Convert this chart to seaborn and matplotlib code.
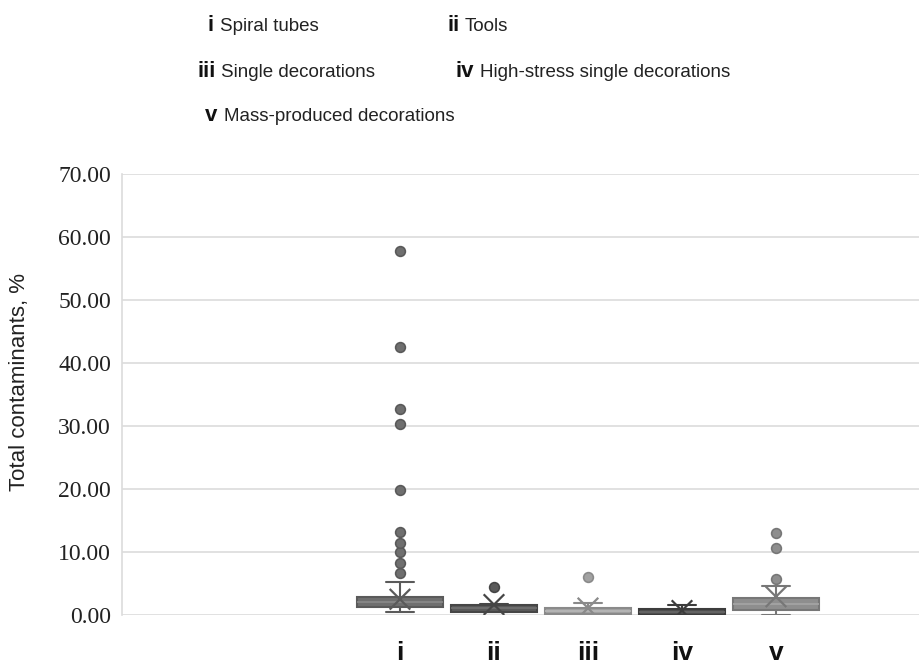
import numpy as np
import pandas as pd
import seaborn as sns
import matplotlib
matplotlib.use("Agg")
import matplotlib.pyplot as plt

cats = ["i", "ii", "iii", "iv", "v"]
legend_names = ["Spiral tubes", "Tools", "Single decorations",
                "High-stress single decorations", "Mass-produced decorations"]

vals_i = [0.5, 0.7, 0.8, 0.9, 1.0, 1.05, 1.1, 1.1, 1.15, 1.2, 1.2, 1.25, 1.25,
          1.3, 1.3, 1.3, 1.35, 1.4, 1.5, 1.6, 1.7, 1.8, 1.8, 1.9, 1.9, 2.0,
          2.0, 2.05, 2.1, 2.1, 2.1, 2.2, 2.3, 2.4, 2.5, 2.5, 2.6, 2.6, 2.7,
          2.7, 2.8, 2.8, 2.85, 2.9, 2.9, 2.9, 3.3, 4.0, 5.2,
          6.7, 8.3, 10.0, 11.4, 13.2, 19.8, 30.3, 32.7, 42.6, 57.8]
vals_ii = [0.4, 0.45, 0.45, 0.5, 0.5, 0.5, 0.7, 0.8, 0.9, 1.0, 1.1, 1.2, 1.3,
           1.4, 1.5, 1.6, 1.6, 1.6, 1.7, 1.8, 4.5]
vals_iii = [0.0, 0.05, 0.1, 0.1, 0.15, 0.15, 0.2, 0.3, 0.4, 0.5, 0.6, 0.7, 0.8,
            0.9, 1.0, 1.1, 1.1, 1.2, 1.5, 1.9, 6.1]
vals_iv = [0.0, 0.0, 0.02, 0.03, 0.05, 0.05, 0.1, 0.2, 0.3, 0.4, 0.5, 0.6, 0.7,
           0.8, 0.9, 0.95, 0.95, 1.0, 1.2, 1.4, 1.6]
vals_v = [0.0, 0.2, 0.4, 0.5, 0.6, 0.75, 0.75, 0.9, 1.1, 1.3, 1.5, 1.7, 1.7,
          1.9, 2.1, 2.3, 2.5, 2.65, 2.65, 3.2, 4.0, 4.6, 5.7, 10.7, 13.0]
means = [2.5, 1.65, 1.1, 0.7, 2.9]

groups = [vals_i, vals_ii, vals_iii, vals_iv, vals_v]
df = pd.concat([pd.DataFrame({"group": c, "value": v}) for c, v in zip(cats, groups)],
               ignore_index=True)

face_colors = ["#6f6f6f", "#5a5a5a", "#a2a2a2", "#4f4f4f", "#8e8e8e"]
line_colors = ["#5a5a5a", "#464646", "#8a8a8a", "#3c3c3c", "#777777"]
med_colors = ["#8a8a8a", "#727272", "#b8b8b8", "#686868", "#a6a6a6"]

sns.set_style("white")
fig = plt.figure(figsize=(9.2, 6.66), dpi=100)
ax = fig.add_axes([122 / 920, 1 - 615 / 666, 1 - 122 / 920, (615 - 174) / 666])

for c, fc, lc, mc in zip(cats, face_colors, line_colors, med_colors):
    sub = df[df["group"] == c]
    sns.boxplot(data=sub, x="group", y="value", order=cats, ax=ax,
                color=fc, linecolor=lc, width=0.92, linewidth=1.5, saturation=1,
                capwidths=0.3,
                medianprops=dict(color=mc, linewidth=1.2),
                flierprops=dict(marker="o", markersize=7, markerfacecolor=fc,
                                markeredgecolor=lc, markeredgewidth=1.2))

sns.scatterplot(x=cats, y=means, hue=cats, palette=line_colors, marker="x",
                s=220, linewidth=1.6, legend=False, ax=ax, zorder=5)

ax.set_xlim(-2.957, 5.532)
ax.set_ylim(0, 70)
ax.set_yticks(np.arange(0, 71, 10))
ax.set_yticklabels([f"{t:.2f}" for t in np.arange(0, 71, 10)],
                   family="Liberation Serif", fontsize=17, color="#222222")
ax.set_xticks(range(len(cats)))
ax.set_xticklabels(cats, fontweight="bold", family="Liberation Sans",
                   fontsize=19, color="#111111")
ax.tick_params(axis="x", length=0, pad=19)
ax.tick_params(axis="y", length=0, pad=8)
ax.set_xlabel("")
ax.set_ylabel("")
ax.yaxis.grid(True, color="#dcdcdc", linewidth=1.2)
ax.set_axisbelow(True)
for s in ["top", "right", "bottom"]:
    ax.spines[s].set_visible(False)
ax.spines["left"].set_color("#dcdcdc")
ax.spines["left"].set_linewidth(1.2)

fig.text(20 / 920, 1 - 382 / 666, "Total contaminants, %", rotation=90,
         ha="center", va="center", family="Liberation Sans", fontsize=16,
         color="#222222")

num_x = [214, 460, 216, 474, 217]
txt_x = [220, 465, 221, 480, 224]
base_y = [31, 77, 121]
rows = [0, 0, 1, 1, 2]
for k in range(5):
    y = 1 - base_y[rows[k]] / 666
    fig.text(num_x[k] / 920, y, cats[k], fontweight="bold", family="Liberation Sans",
             fontsize=16, va="baseline", ha="right", color="#111111")
    fig.text(txt_x[k] / 920, y, legend_names[k], family="Liberation Sans",
             fontsize=13.5, va="baseline", ha="left", color="#222222")

fig.savefig("out.png", dpi=100)
